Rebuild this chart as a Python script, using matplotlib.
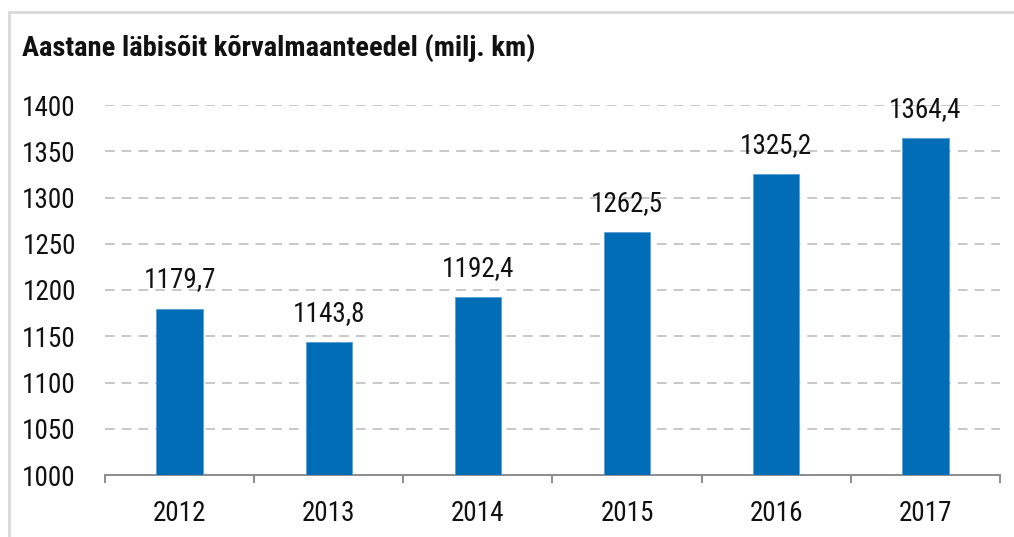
import matplotlib
matplotlib.use('Agg')
import matplotlib.pyplot as plt
from matplotlib.lines import Line2D

years = ['2012', '2013', '2014', '2015', '2016', '2017']
values = [1179.7, 1143.8, 1192.4, 1262.5, 1325.2, 1364.4]
y_ticks = [1000, 1050, 1100, 1150, 1200, 1250, 1300, 1350, 1400]
title = 'Aastane läbisõit kõrvalmaanteedel (milj. km)'

BLUE = '#006db6'
plt.rcParams['font.family'] = ['Roboto Condensed', 'Roboto', 'DejaVu Sans']

fig = plt.figure(figsize=(10.14, 5.37), dpi=100)
ax = fig.add_axes([105 / 1014, 62 / 537, 895 / 1014, 370 / 537])

x = list(range(len(years)))
ax.bar(x, [v - 1000 for v in values], bottom=1000, width=0.31, color=BLUE,
       edgecolor='#5a9fd6', linewidth=0.6, zorder=3)

for xi, v in zip(x, values):
    ax.annotate(f"{v:.1f}".replace('.', ','), (xi, v), xytext=(0, 11),
                textcoords='offset points', ha='center', va='bottom',
                fontsize=19.5, color='#111111')

ax.set_xlim(-0.5, len(years) - 0.5)
ax.set_ylim(1000, 1400)
ax.set_yticks(y_ticks)
ax.set_yticklabels([str(t) for t in y_ticks], fontsize=19.5, color='#111111')
ax.set_xticks(x)
ax.set_xticklabels(years, fontsize=19.5, color='#111111')
ax.tick_params(axis='y', length=0, pad=21)
ax.tick_params(axis='x', length=0, pad=18)

# boundary ticks between categories
ax.set_xticks([i - 0.5 for i in range(len(years) + 1)], minor=True)
ax.tick_params(axis='x', which='minor', length=6, width=1.4, color='#8c8c8c')

for t in y_ticks[1:]:
    ax.axhline(t, color='#c8c8c8', lw=1.4, ls=(0, (5, 3.6)), zorder=1)

for s in ['top', 'right', 'left']:
    ax.spines[s].set_visible(False)
ax.spines['bottom'].set_color('#8c8c8c')
ax.spines['bottom'].set_linewidth(1.4)

fig.text(22 / 1014, 1 - 48 / 537, title, fontsize=20.5, fontweight='bold',
         va='center', ha='left', color='#111111')

# outer light frame (top and left visible)
fig.add_artist(Line2D([9 / 1014, 1.0], [1 - 12 / 537, 1 - 12 / 537],
                      transform=fig.transFigure, color='#d9d9d9', lw=2))
fig.add_artist(Line2D([9 / 1014, 9 / 1014], [0, 1 - 12 / 537],
                      transform=fig.transFigure, color='#d9d9d9', lw=2))

fig.savefig('out.png', dpi=100)
